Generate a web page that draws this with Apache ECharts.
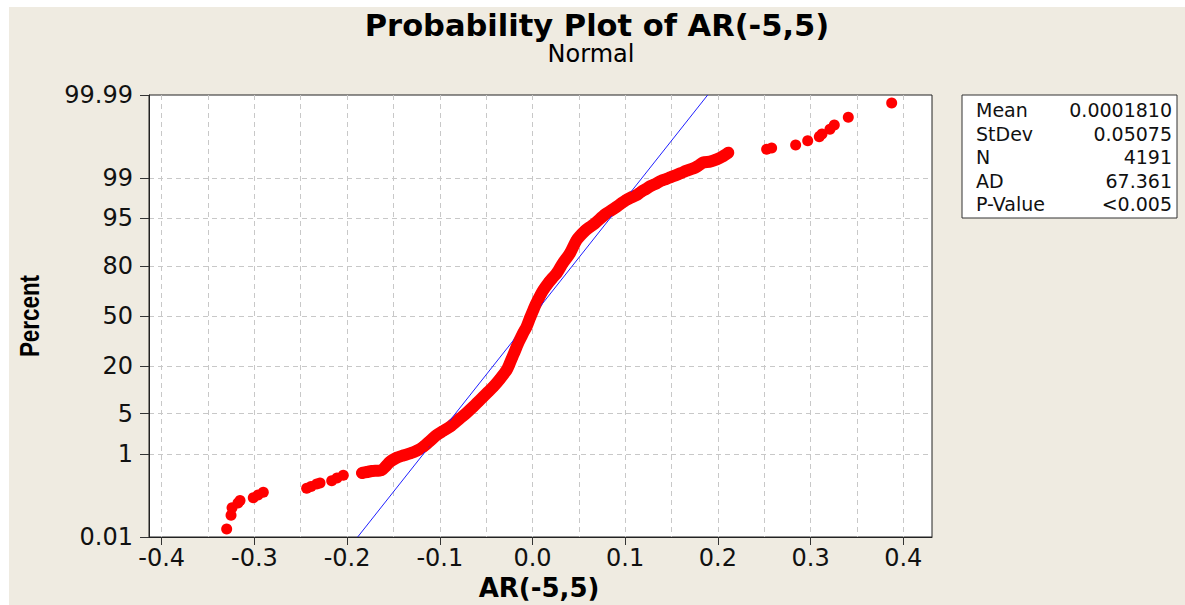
<!DOCTYPE html>
<html>
<head>
<meta charset="utf-8">
<script src="https://cdn.jsdelivr.net/npm/echarts@6/dist/echarts.min.js"></script>
<style>
  html, body { margin: 0; padding: 0; background: #ffffff; }
  #wrap { position: relative; width: 1185px; height: 605px; overflow: hidden; }
  #bg { position: absolute; left: 9px; top: 7px; width: 1176px; height: 598px; background: #EFEBE1; }
  #chart { position: absolute; left: 0; top: 0; width: 1185px; height: 605px; }
</style>
</head>
<body>
<div id="wrap"><div id="bg"></div><div id="chart"></div></div>
<script>
// ---- data ----
const xVals = [
  -0.3299, -0.3252, -0.3241, -0.3177, -0.3155, -0.3012, -0.2961, -0.2904,
  -0.2436, -0.2389, -0.2328, -0.2292, -0.2166, -0.2109, -0.2041,
  -0.1839, -0.1785, -0.1731, -0.1627, -0.1580, -0.1537, -0.1465, -0.1397,
  -0.1321, -0.1246, -0.1178, -0.1106, -0.1033, -0.0965, -0.0890, -0.0782,
  -0.0712, -0.0639, -0.0588, -0.0534, -0.0480, -0.0423, -0.0351, -0.0278,
  -0.0248, -0.0221, -0.0194, -0.0170, -0.0146, -0.0119, -0.0092, -0.0063,
  -0.0027, 0.0009, 0.0032, 0.0059, 0.0086, 0.0117, 0.0178, 0.0216, 0.0261,
  0.0329, 0.0405, 0.0477, 0.0566, 0.0620, 0.0674, 0.0782, 0.0847, 0.0908,
  0.0955, 0.1009, 0.1063, 0.1124, 0.1170, 0.1224, 0.1278, 0.1340, 0.1386,
  0.1440, 0.1494, 0.1556, 0.1602, 0.1656, 0.1735, 0.1785, 0.1843, 0.1915,
  0.1987, 0.2044, 0.2112, 0.2526, 0.2580, 0.2839, 0.2969, 0.3094, 0.3123,
  0.3209, 0.3256, 0.3407, 0.3875
];
const pctVals = [
  0.017, 0.040, 0.063, 0.083, 0.095, 0.111, 0.130, 0.150,
  0.187, 0.206, 0.235, 0.248, 0.279, 0.320, 0.367,
  0.412, 0.433, 0.454, 0.477, 0.58, 0.71, 0.854, 0.944,
  1.04, 1.18, 1.39, 1.77, 2.26, 2.65, 3.12, 4.25,
  5.13, 6.35, 7.40, 8.64, 10.05, 11.7, 14.5, 18.2,
  20.95, 24.0, 27.2, 30.3, 33.4, 36.5, 39.7, 42.9,
  48.6, 54.0, 57.3, 60.6, 63.8, 66.9, 71.6, 73.9, 76.4,
  81.4, 85.5, 89.96, 92.4, 93.3, 94.06, 95.62, 96.2, 96.70,
  97.08, 97.45, 97.69, 97.91, 98.16, 98.37, 98.57, 98.72, 98.85,
  98.94, 99.03, 99.12, 99.19, 99.27, 99.35, 99.42, 99.51, 99.53,
  99.58, 99.63, 99.70, 99.75, 99.765, 99.80, 99.84, 99.873, 99.89,
  99.916, 99.935, 99.959, 99.983
];
// the x range over which the 4191 points merge into one continuous band
const denseBandX = [-0.19, 0.215];

// fitted normal line (mean 0.000181, sd 0.05075) end points
const fitX = [-0.1886, 0.1890];
const fitPct = [0.01, 99.99];

const yTickPct = [0.01, 1, 5, 20, 50, 80, 95, 99, 99.99];
const yTickLabels = ['0.01', '1', '5', '20', '50', '80', '95', '99', '99.99'];
const yGridPct = [1, 5, 20, 50, 80, 95, 99];
const xTickVals = [-0.4, -0.3, -0.2, -0.1, 0.0, 0.1, 0.2, 0.3, 0.4];
const xTickLabels = ['-0.4', '-0.3', '-0.2', '-0.1', '0.0', '0.1', '0.2', '0.3', '0.4'];
const xGridVals = [-0.4, -0.35, -0.3, -0.25, -0.2, -0.15, -0.1, -0.05, 0, 0.05, 0.1, 0.15, 0.2, 0.25, 0.3, 0.35, 0.4];

const statNames = ['Mean', 'StDev', 'N', 'AD', 'P-Value'];
const statValues = ['0.0001810', '0.05075', '4191', '67.361', '<0.005'];

const titleText = 'Probability Plot of AR(-5,5)';
const subTitleText = 'Normal';
const xName = 'AR(-5,5)';
const yName = 'Percent';

// ---- inverse normal CDF (Acklam) for the probability scale ----
function normInv(p) {
  const a = [-3.969683028665376e+01, 2.209460984245205e+02, -2.759285104469687e+02, 1.383577518672690e+02, -3.066479806614716e+01, 2.506628277459239e+00];
  const b = [-5.447609879822406e+01, 1.615858368580409e+02, -1.556989798598866e+02, 6.680131188771972e+01, -1.328068155288572e+01];
  const c = [-7.784894002430293e-03, -3.223964580411365e-01, -2.400758277161838e+00, -2.549732539343734e+00, 4.374664141464968e+00, 2.938163982698783e+00];
  const d = [7.784695709041462e-03, 3.224671290700398e-01, 2.445134137142996e+00, 3.754408661907416e+00];
  const pl = 0.02425, ph = 1 - pl;
  let q, r;
  if (p < pl) {
    q = Math.sqrt(-2 * Math.log(p));
    return (((((c[0]*q+c[1])*q+c[2])*q+c[3])*q+c[4])*q+c[5]) / ((((d[0]*q+d[1])*q+d[2])*q+d[3])*q+1);
  } else if (p <= ph) {
    q = p - 0.5; r = q * q;
    return (((((a[0]*r+a[1])*r+a[2])*r+a[3])*r+a[4])*r+a[5])*q / (((((b[0]*r+b[1])*r+b[2])*r+b[3])*r+b[4])*r+1);
  } else {
    q = Math.sqrt(-2 * Math.log(1 - p));
    return -(((((c[0]*q+c[1])*q+c[2])*q+c[3])*q+c[4])*q+c[5]) / ((((d[0]*q+d[1])*q+d[2])*q+d[3])*q+1);
  }
}
const zOf = pct => normInv(pct / 100);

const yTickZ = yTickPct.map(zOf);
const yGridZ = yGridPct.map(zOf);
const yMin = zOf(0.01), yMax = zOf(99.99);
const xMin = -0.4137, xMax = 0.431;

const points = xVals.map((x, i) => [x, zOf(pctVals[i])]);
const bandPoints = points.filter(p => p[0] >= denseBandX[0] && p[0] <= denseBandX[1]);
const fitLine = fitX.map((x, i) => [x, zOf(fitPct[i])]);

const FONT = '"DejaVu Sans", Verdana, sans-serif';
const chart = echarts.init(document.getElementById('chart'), null, { renderer: 'svg' });

const statGraphics = [];
statNames.forEach((n, i) => {
  const y = 110 + i * 23.5;
  statGraphics.push({ type: 'text', x: 976, y: y, z: 20,
    style: { text: n, fontFamily: FONT, fontSize: 19, fill: '#111', align: 'left', verticalAlign: 'middle' } });
  statGraphics.push({ type: 'text', x: 1172, y: y, z: 20,
    style: { text: statValues[i], fontFamily: FONT, fontSize: 19, fill: '#111', align: 'right', verticalAlign: 'middle' } });
});

const nearestLabel = (vals, labels) => v => {
  let k = 0, best = 1e9;
  vals.forEach((t, i) => { const dd = Math.abs(t - v); if (dd < best) { best = dd; k = i; } });
  return labels[k];
};

chart.setOption({
  backgroundColor: 'transparent',
  animation: false,
  grid: { left: 149, top: 95, right: 253, bottom: 68, show: true, backgroundColor: '#ffffff', borderColor: '#222', borderWidth: 1 },
  xAxis: [
    { type: 'value', min: xMin, max: xMax, position: 'bottom',
      axisLine: { show: true, onZero: false, lineStyle: { color: '#222', width: 1 } },
      axisTick: { show: true, length: 8, customValues: xTickVals, lineStyle: { color: '#333' } },
      axisLabel: { customValues: xTickVals, margin: 9, fontFamily: FONT, fontSize: 24, color: '#111',
        formatter: nearestLabel(xTickVals, xTickLabels) },
      splitLine: { show: false } },
    { type: 'value', min: xMin, max: xMax, position: 'bottom',
      axisLine: { show: false }, axisLabel: { show: false },
      axisTick: { show: false, customValues: xGridVals },
      splitLine: { show: true, lineStyle: { color: '#c8c8c8', type: [5, 4], width: 1 } } }
  ],
  yAxis: [
    { type: 'value', min: yMin, max: yMax, position: 'left',
      axisLine: { show: true, onZero: false, lineStyle: { color: '#222', width: 1 } },
      axisTick: { show: true, length: 9, customValues: yTickZ, lineStyle: { color: '#333' } },
      axisLabel: { customValues: yTickZ, margin: 16, fontFamily: FONT, fontSize: 24, color: '#111',
        formatter: nearestLabel(yTickZ, yTickLabels) },
      splitLine: { show: false } },
    { type: 'value', min: yMin, max: yMax, position: 'left',
      axisLine: { show: false }, axisLabel: { show: false },
      axisTick: { show: false, customValues: yGridZ },
      splitLine: { show: true, lineStyle: { color: '#c8c8c8', type: [5, 4], width: 1 } } }
  ],
  series: [
    { type: 'line', xAxisIndex: 0, yAxisIndex: 0, data: bandPoints, symbol: 'none', clip: true, smooth: 0.25,
      lineStyle: { color: '#ff0000', width: 12, cap: 'round', join: 'round' }, z: 2 },
    { type: 'line', xAxisIndex: 0, yAxisIndex: 0, data: fitLine, symbol: 'none', clip: true,
      lineStyle: { color: '#1f1fff', width: 1 }, z: 3 },
    { type: 'scatter', xAxisIndex: 0, yAxisIndex: 0, data: points, symbol: 'circle', symbolSize: 11,
      itemStyle: { color: '#ff0000', opacity: 1 }, z: 4, clip: true }
  ],
  graphic: [
    { type: 'text', x: 597, y: 25, style: { text: titleText, fontFamily: FONT, fontWeight: 'bold', fontSize: 30.5, fill: '#000', align: 'center', verticalAlign: 'middle' } },
    { type: 'text', x: 591, y: 54, style: { text: subTitleText, fontFamily: FONT, fontSize: 24, fill: '#000', align: 'center', verticalAlign: 'middle' } },
    { type: 'text', x: 539, y: 588, style: { text: xName, fontFamily: FONT, fontWeight: 'bold', fontSize: 26, fill: '#000', align: 'center', verticalAlign: 'middle' } },
    { type: 'text', x: 29, y: 316, rotation: Math.PI / 2, scaleX: 0.8, scaleY: 1,
      style: { text: yName, fontFamily: '"Liberation Sans", Arial, sans-serif', fontWeight: 'bold', fontSize: 28, fill: '#000', align: 'center', verticalAlign: 'middle' } },
    { type: 'rect', shape: { x: 962, y: 95, width: 215, height: 123 }, z: 10, style: { fill: '#ffffff', stroke: '#333', lineWidth: 1 } }
  ].concat(statGraphics)
});
</script>
</body>
</html>
